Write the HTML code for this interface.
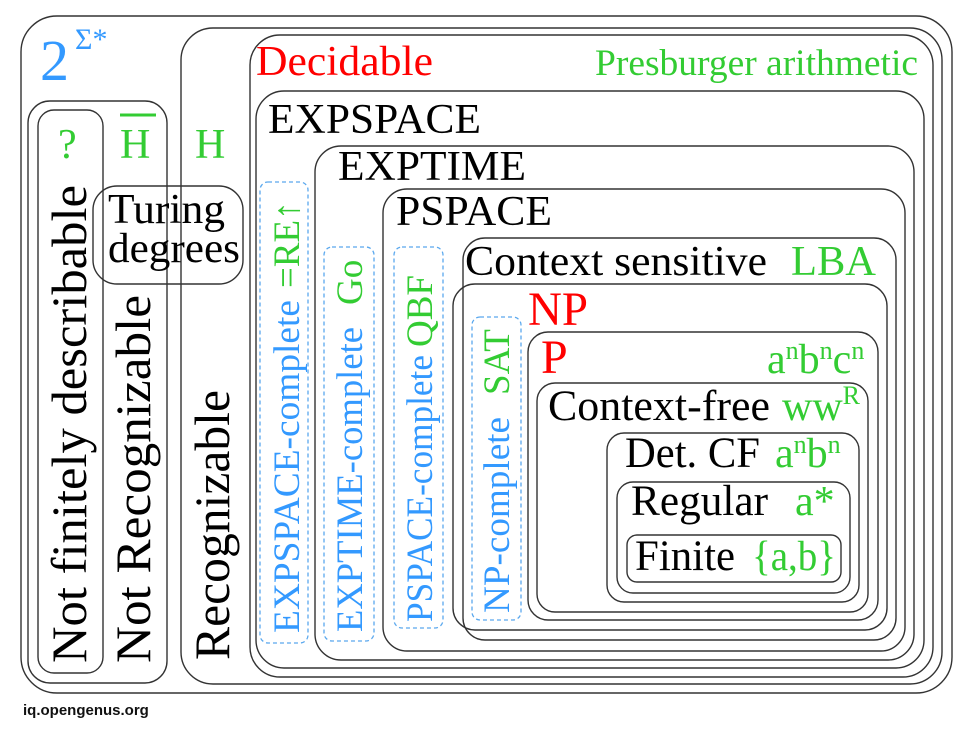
<!DOCTYPE html>
<html><head><meta charset="utf-8"><style>
html,body{margin:0;padding:0;background:#fff}
svg{display:block}
text{font-family:"Liberation Serif",serif}
</style></head><body>
<svg width="975" height="733" viewBox="0 0 975 733" xmlns="http://www.w3.org/2000/svg">
<g fill="none" stroke="#333" stroke-width="1.4">
<rect x="21" y="16" width="931" height="677" rx="36"/>
<rect x="181" y="28" width="761" height="656" rx="32"/>
<rect x="250" y="35" width="683" height="642" rx="30"/>
<rect x="256" y="91" width="668" height="577" rx="28"/>
<rect x="315" y="146" width="599" height="514" rx="26"/>
<rect x="383" y="189" width="522" height="462" rx="24"/>
<rect x="463" y="238" width="433" height="402" rx="22"/>
<rect x="453" y="284" width="434" height="346" rx="22"/>
<rect x="528" y="332" width="350" height="288" rx="20"/>
<rect x="537" y="383" width="331" height="229" rx="18"/>
<rect x="607" y="433" width="252" height="169" rx="17"/>
<rect x="617" y="482" width="233" height="111" rx="16"/>
<rect x="627" y="535" width="214" height="47" rx="10"/>
<rect x="28" y="101" width="139" height="582" rx="22"/>
<rect x="38" y="110" width="65" height="563" rx="16"/>
<rect x="93" y="186" width="150" height="98" rx="24"/>
</g>
<g fill="none" stroke="#5aa8ee" stroke-width="1.3" stroke-dasharray="4,3">
<rect x="260" y="182" width="48" height="461" rx="8"/>
<rect x="324" y="247" width="50" height="394" rx="8"/>
<rect x="394" y="247" width="49" height="381" rx="8"/>
<rect x="472" y="317" width="49" height="303" rx="8"/>
</g>
<text x="40" y="80" font-size="58" fill="#3399ff">2</text>
<text x="75" y="49" font-size="30" fill="#3399ff">Σ*</text>
<text x="256" y="75" font-size="42" fill="#ff0000" textLength="177" lengthAdjust="spacingAndGlyphs">Decidable</text>
<text x="595" y="75" font-size="37" fill="#33cc33" textLength="323" lengthAdjust="spacingAndGlyphs">Presburger arithmetic</text>
<text x="268" y="133" font-size="42" fill="#000" textLength="213" lengthAdjust="spacingAndGlyphs">EXPSPACE</text>
<text x="338" y="180" font-size="42" fill="#000" textLength="188" lengthAdjust="spacingAndGlyphs">EXPTIME</text>
<text x="396" y="225" font-size="42" fill="#000" textLength="156" lengthAdjust="spacingAndGlyphs">PSPACE</text>
<text x="465" y="275" font-size="42" fill="#000" textLength="302" lengthAdjust="spacingAndGlyphs">Context sensitive</text>
<text x="791" y="275" font-size="42" fill="#33cc33" textLength="85" lengthAdjust="spacingAndGlyphs">LBA</text>
<text x="528" y="325" font-size="48" fill="#ff0000" textLength="60" lengthAdjust="spacingAndGlyphs">NP</text>
<text x="541" y="373" font-size="48" fill="#ff0000">P</text>
<text x="767" y="373" font-size="42" fill="#33cc33">a<tspan font-size="26" dy="-14">n</tspan><tspan dy="14">b</tspan><tspan font-size="26" dy="-14">n</tspan><tspan dy="14">c</tspan><tspan font-size="26" dy="-14">n</tspan></text>
<text x="548" y="420" font-size="43" fill="#000" textLength="222" lengthAdjust="spacingAndGlyphs">Context-free</text>
<text x="782" y="420" font-size="42" fill="#33cc33">ww<tspan font-size="26" dy="-16">R</tspan></text>
<text x="625" y="467" font-size="43" fill="#000" textLength="135" lengthAdjust="spacingAndGlyphs">Det. CF</text>
<text x="775" y="467" font-size="42" fill="#33cc33">a<tspan font-size="26" dy="-14">n</tspan><tspan dy="14">b</tspan><tspan font-size="26" dy="-14">n</tspan></text>
<text x="631" y="515" font-size="43" fill="#000" textLength="137" lengthAdjust="spacingAndGlyphs">Regular</text>
<text x="795" y="515" font-size="42" fill="#33cc33">a*</text>
<text x="635" y="570" font-size="43" fill="#000" textLength="100" lengthAdjust="spacingAndGlyphs">Finite</text>
<text x="752" y="570" font-size="42" fill="#33cc33" textLength="84" lengthAdjust="spacingAndGlyphs">{a,b}</text>
<text x="58" y="158" font-size="42" fill="#33cc33">?</text>
<text x="120" y="158" font-size="42" fill="#33cc33">H</text>
<line x1="120" y1="115" x2="156" y2="115" stroke="#33cc33" stroke-width="3"/>
<text x="195" y="158" font-size="42" fill="#33cc33">H</text>
<text x="108" y="223" font-size="42" fill="#000" textLength="117" lengthAdjust="spacingAndGlyphs">Turing</text>
<text x="108" y="262" font-size="42" fill="#000" textLength="132" lengthAdjust="spacingAndGlyphs">degrees</text>
<text transform="translate(86,663) rotate(-90)" font-size="50" fill="#000" textLength="478" lengthAdjust="spacingAndGlyphs">Not finitely describable</text>
<text transform="translate(150,663) rotate(-90)" font-size="50" fill="#000" textLength="368" lengthAdjust="spacingAndGlyphs">Not Recognizable</text>
<text transform="translate(229,660) rotate(-90)" font-size="50" fill="#000" textLength="270" lengthAdjust="spacingAndGlyphs">Recognizable</text>
<text transform="translate(299,633) rotate(-90)" font-size="37" fill="#3399ff"><tspan textLength="333" lengthAdjust="spacingAndGlyphs">EXPSPACE-complete</tspan><tspan fill="#33cc33" dx="12">=RE↑</tspan></text>
<text transform="translate(362,632) rotate(-90)" font-size="37" fill="#3399ff"><tspan textLength="305" lengthAdjust="spacingAndGlyphs">EXPTIME-complete</tspan><tspan fill="#33cc33" dx="22">Go</tspan></text>
<text transform="translate(432,622) rotate(-90)" font-size="37" fill="#3399ff"><tspan textLength="267" lengthAdjust="spacingAndGlyphs">PSPACE-complete</tspan><tspan fill="#33cc33" dx="8">QBF</tspan></text>
<text transform="translate(509,613) rotate(-90)" font-size="37" fill="#3399ff"><tspan textLength="196" lengthAdjust="spacingAndGlyphs">NP-complete</tspan><tspan fill="#33cc33" dx="22">SAT</tspan></text>
<text x="23" y="715" font-family="Liberation Sans, sans-serif" font-weight="bold" font-size="15" fill="#111" style="font-family:'Liberation Sans',sans-serif">iq.opengenus.org</text>
</svg>
</body></html>
